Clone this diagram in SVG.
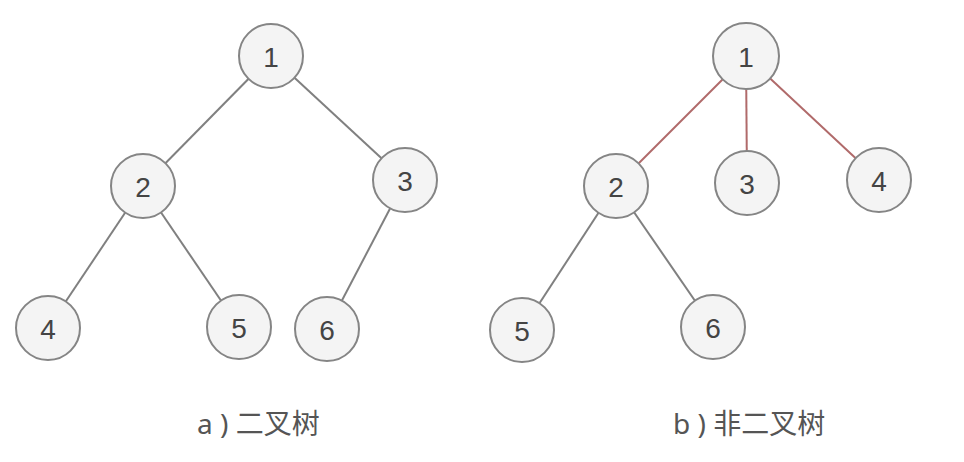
<svg xmlns="http://www.w3.org/2000/svg" width="964" height="462" viewBox="0 0 964 462">
<style>
.n circle{fill:#f4f4f4;stroke:#858585;stroke-width:2}
.n text{font-family:"Liberation Sans","Noto Sans",sans-serif;font-size:28px;fill:#444;text-anchor:middle;dominant-baseline:central}
.e{stroke:#808080;stroke-width:2}
.r{stroke:#b06a6a;stroke-width:2}
.cap{font-family:"Noto Sans","Noto Sans CJK SC",sans-serif;font-size:28px;fill:#555}
</style>
<rect width="964" height="462" fill="#fff"/>
<g id="edges">
<line class="e" x1="271" y1="56" x2="143" y2="186"/>
<line class="e" x1="271" y1="56" x2="405" y2="180"/>
<line class="e" x1="143" y1="186" x2="48" y2="328"/>
<line class="e" x1="143" y1="186" x2="239" y2="327"/>
<line class="e" x1="405" y1="180" x2="327" y2="329"/>
<line class="r" x1="746" y1="56" x2="616" y2="186"/>
<line class="r" x1="746" y1="56" x2="747" y2="183"/>
<line class="r" x1="746" y1="56" x2="879" y2="180"/>
<line class="e" x1="616" y1="186" x2="522" y2="330"/>
<line class="e" x1="616" y1="186" x2="713" y2="327"/>
</g>
<g id="a1" class="n"><circle cx="271" cy="56" r="32"/><text x="271" y="57">1</text></g>
<g id="a2" class="n"><circle cx="143" cy="186" r="32"/><text x="143" y="187">2</text></g>
<g id="a3" class="n"><circle cx="405" cy="180" r="32"/><text x="405" y="181">3</text></g>
<g id="a4" class="n"><circle cx="48" cy="328" r="32"/><text x="48" y="329">4</text></g>
<g id="a5" class="n"><circle cx="239" cy="327" r="32"/><text x="239" y="328">5</text></g>
<g id="a6" class="n"><circle cx="327" cy="329" r="32"/><text x="327" y="330">6</text></g>
<g id="b1" class="n"><circle cx="746" cy="56" r="33"/><text x="746" y="57">1</text></g>
<g id="b2" class="n"><circle cx="616" cy="186" r="32"/><text x="616" y="187">2</text></g>
<g id="b3" class="n"><circle cx="747" cy="183" r="32"/><text x="747" y="184">3</text></g>
<g id="b4" class="n"><circle cx="879" cy="180" r="32"/><text x="879" y="181">4</text></g>
<g id="b5" class="n"><circle cx="522" cy="330" r="32"/><text x="522" y="331">5</text></g>
<g id="b6" class="n"><circle cx="713" cy="327" r="32"/><text x="713" y="328">6</text></g>
<text class="cap" x="197" y="434">a ) 二叉树</text>
<text class="cap" x="673" y="434">b ) 非二叉树</text>
</svg>
